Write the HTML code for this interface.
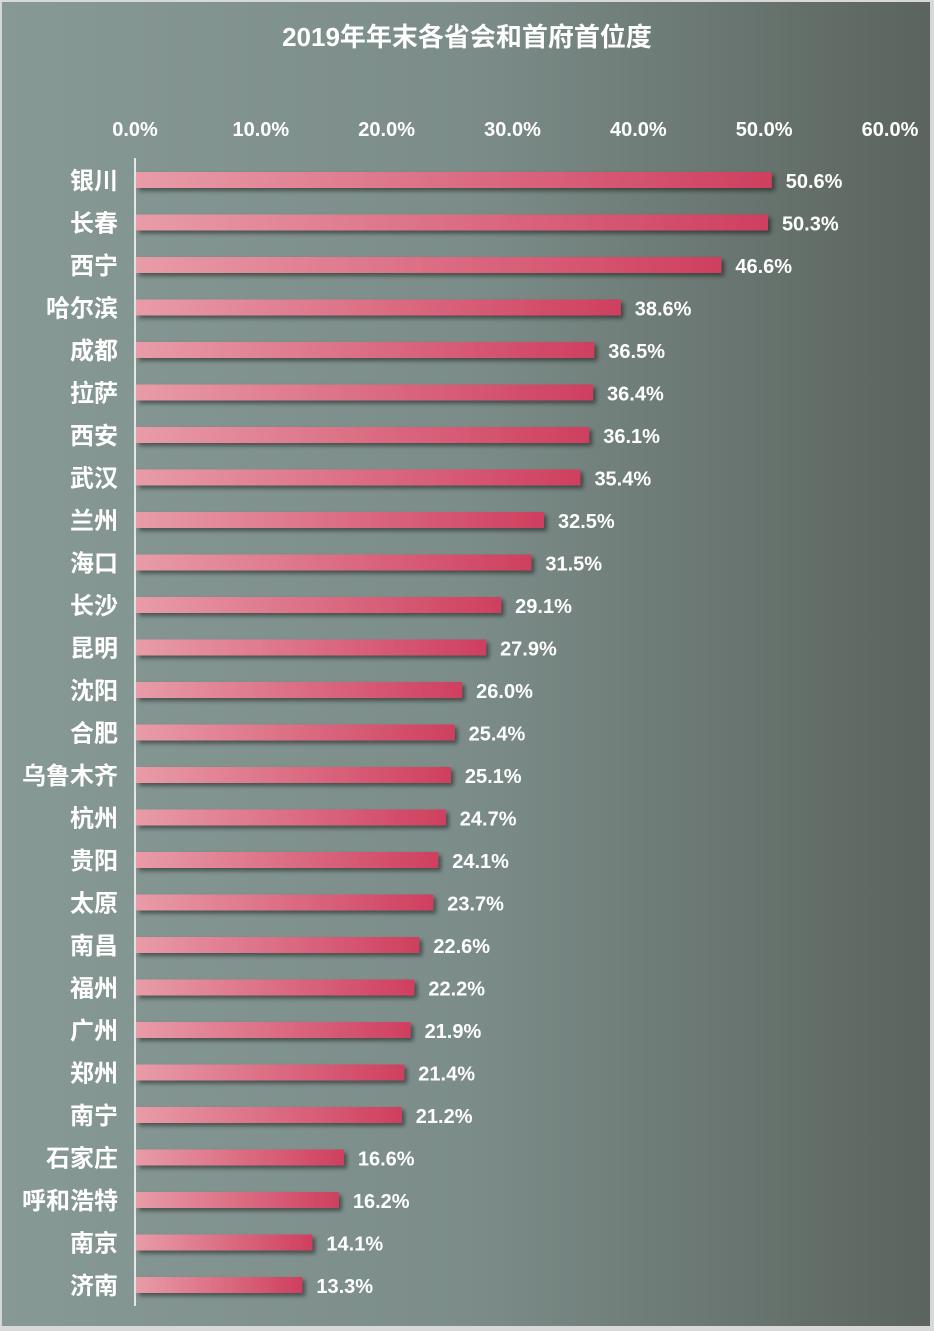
<!DOCTYPE html>
<html><head><meta charset="utf-8"><style>
html,body{margin:0;padding:0}
body{width:934px;height:1330px;overflow:hidden;background:#d8d8d8}
#chart{position:absolute;left:2px;top:2px;width:928px;height:1324px;background:linear-gradient(90deg,#879995 0%,#7c8d89 50%,#5b645e 100%)}
text{font-family:"Liberation Sans","Noto Sans CJK SC",sans-serif;font-weight:bold;fill:#fff}
</style></head><body>
<div id="chart">
<svg id="svg" width="928" height="1324" viewBox="2 2 928 1324">
<defs>
<linearGradient id="bg" x1="0" x2="1" y1="0" y2="0"><stop offset="0" stop-color="#e89ca8"/><stop offset="1" stop-color="#cf3f5f"/></linearGradient>
<filter id="sh" x="-5%" y="-50%" width="110%" height="250%"><feDropShadow dx="3" dy="3" stdDeviation="2" flood-color="#000" flood-opacity="0.45"/></filter>
</defs>
<text x="467" y="46" text-anchor="middle" font-size="26">2019年年末各省会和首府首位度</text>
</svg>
</div>
<script>
const categories=["银川","长春","西宁","哈尔滨","成都","拉萨","西安","武汉","兰州","海口","长沙","昆明","沈阳","合肥","乌鲁木齐","杭州","贵阳","太原","南昌","福州","广州","郑州","南宁","石家庄","呼和浩特","南京","济南"];
const values=[50.6,50.3,46.6,38.6,36.5,36.4,36.1,35.4,32.5,31.5,29.1,27.9,26.0,25.4,25.1,24.7,24.1,23.7,22.6,22.2,21.9,21.4,21.2,16.6,16.2,14.1,13.3];
const ticks=[0,10,20,30,40,50,60];
const NS="http://www.w3.org/2000/svg";
const svg=document.getElementById('svg');
const x0=135,x1=890,vmax=60;
const xs=v=>x0+(x1-x0)*v/vmax;
const yTop=180,yBot=1285;
const ys=i=>yTop+(yBot-yTop)*i/(categories.length-1);
function mk(t,a){const e=document.createElementNS(NS,t);for(const k in a)e.setAttribute(k,a[k]);svg.appendChild(e);return e;}
ticks.forEach(t=>{
 const e=mk('text',{x:xs(t),y:136,'text-anchor':'middle','font-size':20});
 
 
 e.textContent=t.toFixed(1)+'%';
});
const ax=mk('line',{x1:x0,x2:x0,y1:158,y2:1306,stroke:'#e6e6e6','stroke-width':2});


categories.forEach((c,i)=>{
 const y=ys(i);
 const l=mk('text',{x:118,y:y+9,'text-anchor':'end','font-size':24});
 
 
 l.textContent=c;
 const b=mk('rect',{x:x0+1,y:y-8,width:Math.max(0,xs(values[i])-x0-1),height:16,fill:'url(#bg)',filter:'url(#sh)'});
 
 
 const v=mk('text',{x:xs(values[i])+14,y:y+8,'font-size':20});
 
 
 v.textContent=values[i].toFixed(1)+'%';
});
</script>
</body></html>
